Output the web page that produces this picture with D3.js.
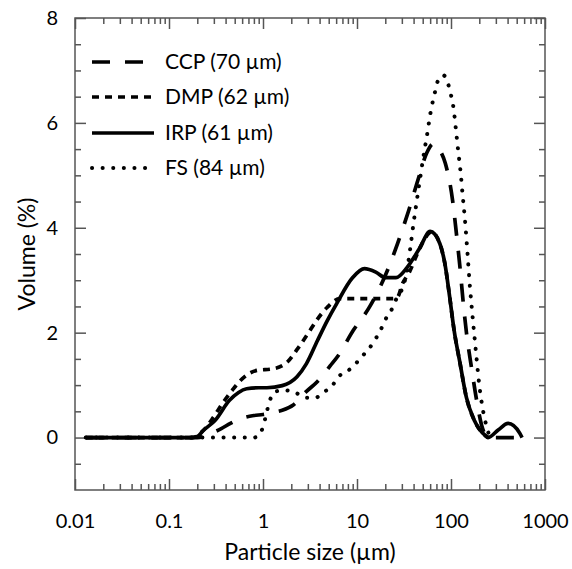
<!DOCTYPE html>
<html>
<head>
<meta charset="utf-8">
<script src="https://cdn.jsdelivr.net/npm/d3@7"></script>
<style>
body { margin: 0; background: #fff; }
svg text { font-family: Lato, "Open Sans", sans-serif; fill: #000; }
.axis path, .axis line { stroke: #555; stroke-width: 1.5; }
</style>
</head>
<body>
<svg id="chart" width="572" height="569"></svg>
<script>
// particle size distributions, size in um, volume in %
var ccpX = [0.013, 0.2, 0.28, 0.36, 0.45, 0.6, 0.8, 1.0, 1.3, 1.6, 2.1, 2.9, 3.8, 5.2, 6.3, 9.1, 13.7, 21, 27, 35.5, 45, 55, 65, 76, 87, 104, 114, 125, 134, 146, 164, 187, 212, 240, 260, 570];
var ccpY = [0, 0, 0.08, 0.17, 0.27, 0.37, 0.42, 0.44, 0.48, 0.52, 0.62, 0.88, 1.07, 1.37, 1.56, 2.04, 2.5, 3.18, 3.7, 4.33, 4.94, 5.42, 5.6, 5.48, 5.23, 4.52, 3.9, 3.22, 2.63, 2.0, 1.37, 0.72, 0.23, 0.02, 0, 0];

var dmpX = [0.013, 0.18, 0.23, 0.29, 0.37, 0.47, 0.6, 0.86, 1.27, 1.84, 2.35, 3.0, 3.7, 4.8, 6.6, 10, 16, 24, 27, 30.6, 36, 43, 53, 62, 76, 86, 97, 108, 125, 146, 178, 231, 250];
var dmpY = [0, 0, 0.13, 0.36, 0.65, 0.9, 1.12, 1.28, 1.31, 1.45, 1.7, 1.98, 2.23, 2.48, 2.65, 2.65, 2.65, 2.65, 2.68, 2.94, 3.15, 3.47, 3.8, 3.92, 3.7, 3.32, 2.67, 2.04, 1.41, 0.76, 0.32, 0.04, 0];

var irpX = [0.013, 0.17, 0.2, 0.23, 0.31, 0.44, 0.55, 0.67, 0.9, 1.1, 1.6, 2.3, 2.9, 3.8, 4.8, 6.1, 9.0, 12, 16, 20, 26, 34, 46, 60, 76, 86, 97, 108, 125, 146, 178, 231, 248, 320, 405, 540, 570];
var irpY = [0, 0, 0.02, 0.13, 0.33, 0.71, 0.86, 0.93, 0.95, 0.95, 0.99, 1.16, 1.41, 1.85, 2.22, 2.56, 3.05, 3.22, 3.15, 3.05, 3.05, 3.24, 3.6, 3.93, 3.7, 3.32, 2.67, 2.04, 1.41, 0.76, 0.32, 0.04, 0, 0.15, 0.27, 0.08, 0];

var fsX = [0.013, 0.8, 0.9, 1.0, 1.1, 1.19, 1.37, 1.7, 2.2, 2.8, 3.6, 4.4, 5.5, 6.3, 8.5, 11.5, 14.5, 17.7, 20.6, 24, 26.6, 30.6, 33.6, 36.8, 39.9, 43.3, 46.9, 50.8, 55.5, 60.5, 67.6, 72.5, 82.8, 94, 100, 106, 113, 119, 127, 133, 140, 150, 158, 170, 185, 200, 220, 240, 260];
var fsY = [0, 0, 0.05, 0.2, 0.5, 0.72, 0.88, 0.9, 0.86, 0.76, 0.76, 0.86, 1.0, 1.15, 1.31, 1.56, 1.78, 2.04, 2.29, 2.48, 2.67, 2.86, 3.13, 3.6, 4.08, 4.52, 4.94, 5.35, 5.76, 6.19, 6.59, 6.8, 6.91, 6.72, 6.53, 6.3, 5.86, 5.48, 5.03, 4.62, 4.2, 3.5, 2.94, 2.29, 1.6, 1.0, 0.5, 0.2, 0];

var seriesNames = ['CCP (70 \u00b5m)', 'DMP (62 \u00b5m)', 'IRP (61 \u00b5m)', 'FS (84 \u00b5m)'];
var seriesDash = ['18,15', '7,6', null, '0.1,10.5'];

var xMajor = [0.01, 0.1, 1, 10, 100, 1000];
var xLabels = ['0.01', '0.1', '1', '10', '100', '1000'];
var yMajor = [0, 2, 4, 6, 8];

var svg = d3.select('#chart');
var padL = 75, padR = 545, padT = 18, padB = 490;

var xscale = d3.scaleLog()
	.domain([0.01, 1000])
	.range([padL, padR]);

var yscale = d3.scaleLinear()
	.domain([-1, 8])
	.range([padB, padT]);

// minor ticks 2..9 in each decade, every 0.5 on y
var xMinor = [];
for (var d = 0; d < xMajor.length - 1; d++) {
	for (var k = 2; k < 10; k++) xMinor.push(k * xMajor[d]);
}
var yMinor = d3.range(-0.5, 8, 0.5).filter(v => yMajor.indexOf(v) < 0);

var noText = function(g) { g.selectAll('text').remove(); };

svg.append('g').attr('class', 'axis')
	.attr('transform', 'translate(0,' + padB + ')')
	.call(d3.axisBottom(xscale).tickValues(xMinor).tickSize(-6).tickSizeOuter(0))
	.call(noText);
svg.append('g').attr('class', 'axis')
	.attr('transform', 'translate(0,' + padB + ')')
	.call(d3.axisBottom(xscale).tickValues(xMajor).tickSize(-11).tickSizeOuter(0)
		.tickPadding(24).tickFormat((v, i) => xLabels[i]))
	.selectAll('text').attr('font-size', 20);

svg.append('g').attr('class', 'axis')
	.attr('transform', 'translate(0,' + padT + ')')
	.call(d3.axisTop(xscale).tickValues(xMinor).tickSize(-6).tickSizeOuter(0))
	.call(noText);
svg.append('g').attr('class', 'axis')
	.attr('transform', 'translate(0,' + padT + ')')
	.call(d3.axisTop(xscale).tickValues(xMajor).tickSize(-11).tickSizeOuter(0))
	.call(noText);

svg.append('g').attr('class', 'axis')
	.attr('transform', 'translate(' + padL + ',0)')
	.call(d3.axisLeft(yscale).tickValues(yMinor).tickSize(-6).tickSizeOuter(0))
	.call(noText);
svg.append('g').attr('class', 'axis')
	.attr('transform', 'translate(' + padL + ',0)')
	.call(d3.axisLeft(yscale).tickValues(yMajor).tickSize(-11).tickSizeOuter(0).tickPadding(17))
	.selectAll('text').attr('font-size', 20);

svg.append('g').attr('class', 'axis')
	.attr('transform', 'translate(' + padR + ',0)')
	.call(d3.axisRight(yscale).tickValues(yMinor).tickSize(-6).tickSizeOuter(0))
	.call(noText);
svg.append('g').attr('class', 'axis')
	.attr('transform', 'translate(' + padR + ',0)')
	.call(d3.axisRight(yscale).tickValues(yMajor).tickSize(-11).tickSizeOuter(0))
	.call(noText);

svg.selectAll('.axis .domain').remove();
svg.append('rect')
	.attr('x', padL).attr('y', padT)
	.attr('width', padR - padL).attr('height', padB - padT)
	.attr('fill', 'none').attr('stroke', '#555').attr('stroke-width', 1.5);

// axis titles
svg.append('text')
	.attr('x', 310).attr('y', 560)
	.attr('text-anchor', 'middle').attr('font-size', 23)
	.text('Particle size (\u00b5m)');
svg.append('text')
	.attr('transform', 'translate(35,254) rotate(-90)')
	.attr('text-anchor', 'middle').attr('font-size', 23)
	.text('Volume (%)');

// curves
var line = d3.line()
	.x(d => xscale(d[0]))
	.y(d => yscale(d[1]))
	.curve(d3.curveMonotoneX);

var allX = [ccpX, dmpX, irpX, fsX];
var allY = [ccpY, dmpY, irpY, fsY];
var drawOrder = [2, 0, 1, 3];

drawOrder.forEach(function(s) {
	var coords = allX[s].map((x, i) => [x, allY[s][i]]);
	svg.append('path')
		.datum(coords)
		.attr('d', line)
		.attr('fill', 'none')
		.attr('stroke', '#000')
		.attr('stroke-width', s == 3 ? 4 : 3.7)
		.attr('stroke-linecap', s == 3 ? 'round' : 'butt')
		.attr('stroke-dasharray', seriesDash[s]);
});

// legend
var legend = svg.append('g');
var rowY = [62, 97, 133, 168];
seriesNames.forEach(function(name, i) {
	legend.append('line')
		.attr('x1', 92).attr('x2', i == 0 ? 143 : 154)
		.attr('y1', rowY[i]).attr('y2', rowY[i])
		.attr('stroke', '#000')
		.attr('stroke-width', i == 3 ? 4 : 3.7)
		.attr('stroke-linecap', i == 3 ? 'round' : 'butt')
		.attr('stroke-dasharray', seriesDash[i]);
	legend.append('text')
		.attr('x', 165).attr('y', rowY[i])
		.attr('dy', '0.35em')
		.attr('font-size', 21)
		.text(name);
});
</script>
</body>
</html>
